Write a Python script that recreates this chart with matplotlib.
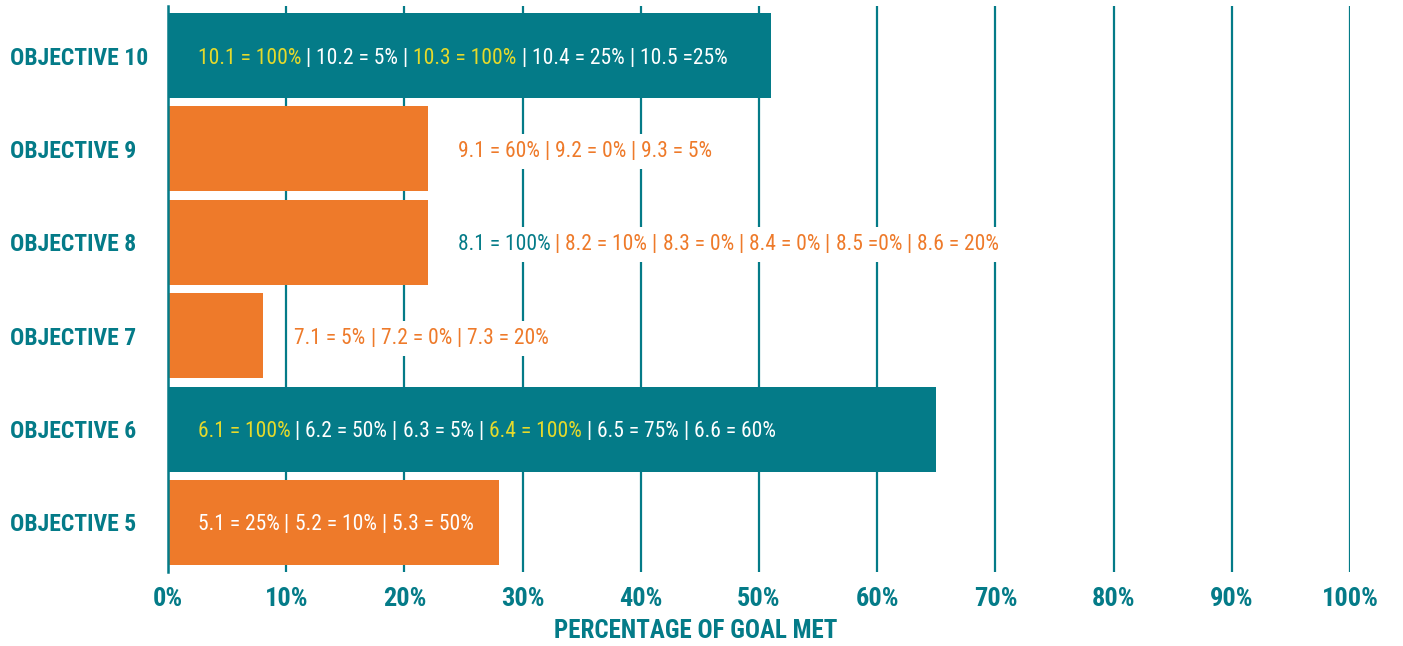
import matplotlib
matplotlib.use('Agg')
import matplotlib.pyplot as plt
from matplotlib import font_manager
from matplotlib.transforms import offset_copy

# Data
objectives = ['OBJECTIVE 5', 'OBJECTIVE 6', 'OBJECTIVE 7', 'OBJECTIVE 8', 'OBJECTIVE 9', 'OBJECTIVE 10']
goal_met = [28, 65, 8, 22, 22, 51]
bar_kind = ['orange', 'teal', 'orange', 'orange', 'orange', 'teal']
x_ticks = [0, 10, 20, 30, 40, 50, 60, 70, 80, 90, 100]
x_tick_labels = ['0%', '10%', '20%', '30%', '40%', '50%', '60%', '70%', '80%', '90%', '100%']

# sub-objective labels: (text, colour key)
sub_5 = [('5.1 = 25%', 'w'), ('5.2 = 10%', 'w'), ('5.3 = 50%', 'w')]
sub_6 = [('6.1 = 100%', 'y'), ('6.2 = 50%', 'w'), ('6.3 = 5%', 'w'), ('6.4 = 100%', 'y'),
         ('6.5 = 75%', 'w'), ('6.6 = 60%', 'w')]
sub_7 = [('7.1 = 5%', 'o'), ('7.2 = 0%', 'o'), ('7.3 = 20%', 'o')]
sub_8 = [('8.1 = 100%', 't'), ('8.2 = 10%', 'o'), ('8.3 = 0%', 'o'), ('8.4 = 0%', 'o'),
         ('8.5 =0%', 'o'), ('8.6 = 20%', 'o')]
sub_9 = [('9.1 = 60%', 'o'), ('9.2 = 0%', 'o'), ('9.3 = 5%', 'o')]
sub_10 = [('10.1 = 100%', 'y'), ('10.2 = 5%', 'w'), ('10.3 = 100%', 'y'), ('10.4 = 25%', 'w'),
          ('10.5 =25%', 'w')]
sub_labels = [sub_5, sub_6, sub_7, sub_8, sub_9, sub_10]
label_start = [2.5, 2.5, 10.7, 24.5, 24.5, 2.5]
sep_color = ['w', 'w', 'o', 'o', 'o', 'w']

# Colours
teal = '#047B88'
orange = '#EE7A2A'
yellow = '#E6DA2B'
palette = {'w': 'white', 'y': yellow, 'o': orange, 't': teal}
bar_colors = {'orange': orange, 'teal': teal}

# pick a narrow font if one is installed
names = {f.name for f in font_manager.fontManager.ttflist}
family = 'DejaVu Sans'
for cand in ['Liberation Sans Narrow', 'Roboto Condensed', 'DejaVu Sans Condensed', 'Roboto']:
    if cand in names:
        family = cand
        break
plt.rcParams['font.family'] = [family, 'DejaVu Sans']

fig = plt.figure(figsize=(14.03, 6.46), dpi=100)
ax = fig.add_axes([168 / 1403, 74 / 646, (1350 - 168) / 1403, 566 / 646])

ypos = list(range(len(objectives)))
ax.barh(ypos, goal_met, height=0.91, color=[bar_colors[k] for k in bar_kind], zorder=2)

ax.set_xlim(0, 100)
ax.set_ylim(-0.53, 5.53)
ax.set_xticks(x_ticks)
ax.set_xticklabels(x_tick_labels, fontsize=19, fontweight='bold', color=teal)
for lab in ax.get_xticklabels():
    lab.set_transform(lab.get_transform() + matplotlib.transforms.ScaledTranslation(5 / 100, 0, fig.dpi_scale_trans))
ax.set_yticks(ypos)
ax.set_yticklabels(objectives, fontsize=17, fontweight='bold', color=teal, ha='left')
ax.tick_params(axis='y', length=0, pad=(168 - 10) * 0.72)
ax.tick_params(axis='x', length=0, pad=11)
ax.grid(axis='x', color=teal, linewidth=1.6, zorder=0)
ax.set_axisbelow(True)
for s in ['top', 'right', 'bottom']:
    ax.spines[s].set_visible(False)
ax.spines['left'].set_color(teal)
ax.spines['left'].set_linewidth(1.8)
ax.spines['left'].set_zorder(3)
fig.text(696 / 1403, 1 - 631 / 646, 'PERCENTAGE OF GOAL MET', fontsize=18, fontweight='bold',
         color=teal, ha='center', va='center')

renderer = fig.canvas.get_renderer()
fs = 15.5
for i, parts in enumerate(sub_labels):
    inside = label_start[i] < goal_met[i]
    pieces = []
    for j, (txt, ck) in enumerate(parts):
        pieces.append((txt, palette[ck]))
        if j < len(parts) - 1:
            pieces.append((' | ', palette[sep_color[i]]))
    # white backing box first (for labels that sit over the grid)
    passes = [False, True] if not inside else [True]
    for visible in passes:
        dx = 0
        for s, c in pieces:
            tr = offset_copy(ax.transData, fig=fig, x=dx, y=0, units='dots')
            if visible:
                t = ax.text(label_start[i], i, s, transform=tr, color=c, fontsize=fs,
                            va='center_baseline', ha='left', zorder=4)
            else:
                t = ax.text(label_start[i], i, s, transform=tr, color='white', fontsize=fs,
                            va='center_baseline', ha='left', zorder=3,
                            bbox=dict(facecolor='white', edgecolor='none', pad=5))
            dx += t.get_window_extent(renderer).width

fig.savefig('out.png', dpi=100)
